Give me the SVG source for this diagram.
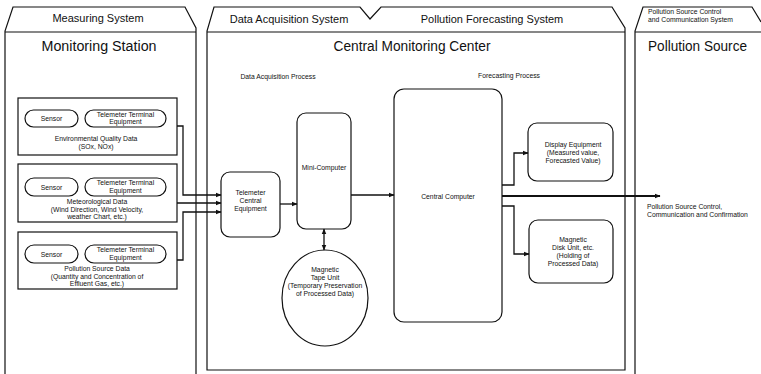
<svg xmlns="http://www.w3.org/2000/svg" width="761" height="374" viewBox="0 0 761 374">
<defs>
<marker id="ah" viewBox="0 0 10 10" refX="9" refY="5" markerWidth="6" markerHeight="6" orient="auto-start-reverse" markerUnits="userSpaceOnUse">
<path d="M0,1 L10,5 L0,9 z" fill="#111"/>
</marker>
<style>
.ln{fill:none;stroke:#111;stroke-width:1.2}
.bx{fill:#fff;stroke:#111;stroke-width:1.2}
.cn{fill:none;stroke:#111;stroke-width:1.3;marker-end:url(#ah)}
text{font-family:"Liberation Sans",Arial,sans-serif;fill:#111}
.hd{font-size:11px;text-anchor:middle}
.tt{font-size:14px}
.sm{font-size:6.8px;text-anchor:middle}
.sl{font-size:6.8px}
</style>
</defs>
<rect width="761" height="374" fill="#fff"/>
<g id="panel-measuring">
<path class="ln" d="M5,374 V31 L13,7 H185 L196,28 V374"/>
<path class="ln" d="M5,32 H196"/>
<text class="hd" x="98" y="22">Measuring System</text>
<text class="tt" x="99" y="51" text-anchor="middle" textLength="115" lengthAdjust="spacingAndGlyphs">Monitoring Station</text>
</g>
<g id="panel-central">
<path class="ln" d="M207,370 V31 L214,7 H360 L370,19 L381,7 H612 L625,28 V370 Z"/>
<path class="ln" d="M207,32 H625"/>
<text class="hd" x="289" y="23">Data Acquisition System</text>
<text class="hd" x="492" y="23">Pollution Forecasting System</text>
<text class="tt" x="412" y="51" text-anchor="middle" textLength="157" lengthAdjust="spacingAndGlyphs">Central Monitoring Center</text>
<text class="sm" x="278" y="79">Data Acquisition Process</text>
<text class="sm" x="509" y="78">Forecasting Process</text>
</g>
<g id="panel-source">
<path class="ln" d="M635,374 V31 L643,7 H752 L761,22"/>
<path class="ln" d="M635,32 H761"/>
<text class="sl" x="648" y="14">Pollution Source Control</text>
<text class="sl" x="648" y="22">and Communication System</text>
<text class="tt" x="648" y="51" textLength="99" lengthAdjust="spacingAndGlyphs">Pollution Source</text>
</g>
<g id="env-data">
<rect class="bx" x="18" y="98" width="159" height="57"/>
<rect class="bx" x="25" y="110" width="53" height="17" rx="8.5"/>
<rect class="bx" x="85" y="110" width="81" height="17" rx="8.5"/>
<text class="sm" x="51.5" y="121">Sensor</text>
<text class="sm" x="125.5" y="116.5">Telemeter Terminal</text>
<text class="sm" x="125.5" y="124">Equipment</text>
<text class="sm" x="96" y="140.5">Environmental Quality Data</text>
<text class="sm" x="96" y="148.5">(SOx, NOx)</text>
</g>
<g id="met-data">
<rect class="bx" x="18" y="164" width="159" height="58"/>
<rect class="bx" x="25" y="178" width="53" height="18" rx="9"/>
<rect class="bx" x="85" y="178" width="81" height="18" rx="9"/>
<text class="sm" x="51.5" y="189.5">Sensor</text>
<text class="sm" x="125.5" y="185">Telemeter Terminal</text>
<text class="sm" x="125.5" y="192.5">Equipment</text>
<text class="sm" x="97" y="204">Meteorological Data</text>
<text class="sm" x="97" y="211.5">(Wind Direction, Wind Velocity,</text>
<text class="sm" x="97" y="219">weather Chart, etc.)</text>
</g>
<g id="src-data">
<rect class="bx" x="18" y="232" width="159" height="57"/>
<rect class="bx" x="25" y="245" width="53" height="18" rx="9"/>
<rect class="bx" x="85" y="245" width="81" height="18" rx="9"/>
<text class="sm" x="51.5" y="256.5">Sensor</text>
<text class="sm" x="125.5" y="252">Telemeter Terminal</text>
<text class="sm" x="125.5" y="259.5">Equipment</text>
<text class="sm" x="97" y="271">Pollution Source Data</text>
<text class="sm" x="97" y="278.5">(Quantity and Concentration of</text>
<text class="sm" x="97" y="286">Effluent Gas, etc.)</text>
</g>
<g id="telemeter-central">
<rect class="bx" x="221" y="172" width="59" height="65" rx="9"/>
<text class="sm" x="250.5" y="195">Telemeter</text>
<text class="sm" x="250.5" y="203">Central</text>
<text class="sm" x="250.5" y="211">Equipment</text>
</g>
<g id="mini-computer">
<rect class="bx" x="297" y="113" width="54" height="116" rx="9"/>
<text class="sm" x="324" y="170">Mini-Computer</text>
</g>
<g id="tape-unit">
<ellipse class="bx" cx="325" cy="298" rx="43" ry="48"/>
<text class="sm" x="325" y="272">Magnetic</text>
<text class="sm" x="325" y="280">Tape Unit</text>
<text class="sm" x="325" y="288">(Temporary Preservation</text>
<text class="sm" x="325" y="296">of Processed Data)</text>
</g>
<g id="central-computer">
<rect class="bx" x="394" y="89" width="108" height="233" rx="10"/>
<text class="sm" x="448" y="199">Central Computer</text>
</g>
<g id="display">
<rect class="bx" x="528" y="123" width="85" height="58" rx="9"/>
<text class="sm" x="573" y="147">Display Equipment</text>
<text class="sm" x="573" y="155">(Measured value,</text>
<text class="sm" x="573" y="163">Forecasted Value)</text>
</g>
<g id="disk">
<rect class="bx" x="529" y="220" width="84" height="63" rx="9"/>
<text class="sm" x="573" y="242">Magnetic</text>
<text class="sm" x="573" y="250">Disk Unit, etc.</text>
<text class="sm" x="573" y="258">(Holding of</text>
<text class="sm" x="573" y="266">Processed Data)</text>
</g>
<g id="output-label">
<text class="sl" x="647" y="209">Pollution Source Control,</text>
<text class="sl" x="647" y="216.5">Communication and Confirmation</text>
</g>
<g id="connectors">
<path class="cn" d="M177,126 H183 V195 H221"/>
<path class="cn" d="M177,203 H221"/>
<path class="cn" d="M177,260 H183 V212 H221"/>
<path class="cn" d="M280,204 H297"/>
<path class="cn" d="M351,195 H394"/>
<path class="cn" d="M324,229 V250" style="marker-start:url(#ah)"/>
<path class="cn" d="M502,185 H514 V153 H528"/>
<path class="cn" d="M502,196 H660" style="stroke-width:2"/>
<path class="cn" d="M502,206 H514 V254 H529"/>
</g>
</svg>
